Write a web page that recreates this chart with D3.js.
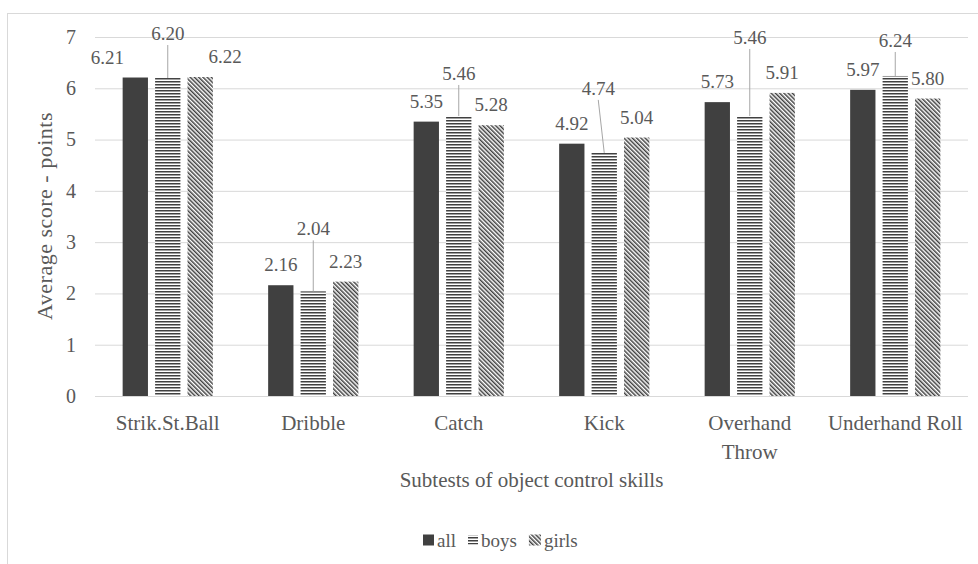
<!DOCTYPE html>
<html>
<head>
<meta charset="utf-8">
<script src="https://cdn.jsdelivr.net/npm/d3@7"></script>
<style>
  body { margin: 0; background: #fff; }
  svg { display: block; }
</style>
</head>
<body>
<svg id="chart" width="978" height="564"></svg>
<script>
// ---- data ----
const categories = ["Strik.St.Ball", "Dribble", "Catch", "Kick", "Overhand Throw", "Underhand Roll"];
const seriesNames = ["all", "boys", "girls"];
const allScores   = [6.21, 2.16, 5.35, 4.92, 5.73, 5.97];
const boysScores  = [6.20, 2.04, 5.46, 4.74, 5.46, 6.24];
const girlsScores = [6.22, 2.23, 5.28, 5.04, 5.91, 5.80];
const yTicks = [0, 1, 2, 3, 4, 5, 6, 7];
const yTitle = "Average score - points";
const xTitle = "Subtests of object control skills";

// hand-placed data label nudges, in pixels
const labelDx = {
  all:   [-28, 0, 0, 0, 0, 0],
  boys:  [0, 0, 0, -6, 0, 0],
  girls: [25, 0, 0, 0, 0, 0]
};
const boysLabelLift = [45, 63, 43, 65, 79, 36];

const seriesValues = { all: allScores, boys: boysScores, girls: girlsScores };

// ---- layout ----
const FONT = "Liberation Serif";
const svg = d3.select("#chart");
const plot = { left: 95, right: 968, top: 37, bottom: 396 };
const ink = "#404040";
const textGray = "#595959";
const gridGray = "#d9d9d9";

// chart frame
svg.append("rect")
  .attr("x", 7.5).attr("y", 13.5)
  .attr("width", 992).attr("height", 600)
  .attr("fill", "#fff").attr("stroke", gridGray).attr("stroke-width", 1);

// fill patterns
const defs = svg.append("defs");
const hp = defs.append("pattern").attr("id", "pat-boys")
  .attr("patternUnits", "userSpaceOnUse").attr("width", 6).attr("height", 3);
hp.append("rect").attr("width", 6).attr("height", 3).attr("fill", "#fff");
hp.append("rect").attr("width", 6).attr("height", 1.5).attr("fill", ink);

const dp = defs.append("pattern").attr("id", "pat-girls")
  .attr("patternUnits", "userSpaceOnUse").attr("width", 3).attr("height", 3)
  .attr("patternTransform", "rotate(-45)");
dp.append("rect").attr("width", 3).attr("height", 3).attr("fill", "#fff");
dp.append("rect").attr("width", 1.5).attr("height", 3).attr("fill", ink);

const fills = { all: ink, boys: "url(#pat-boys)", girls: "url(#pat-girls)" };

// scales
const x0 = d3.scaleBand().domain(categories).range([plot.left, plot.right]).padding(0);
const bw = x0.bandwidth();
const x1 = d3.scaleBand().domain(seriesNames).range([bw * 0.19, bw * 0.81]).paddingInner(0.22);
const y = d3.scaleLinear().domain([0, 7]).range([plot.bottom, plot.top]);

// gridlines + tick labels
const yAxis = svg.append("g")
  .attr("transform", `translate(${plot.left},0)`)
  .call(d3.axisLeft(y).tickValues(yTicks).tickFormat(d3.format("d"))
    .tickSizeInner(-(plot.right - plot.left)).tickSizeOuter(0).tickPadding(19));
yAxis.attr("font-size", 20);
yAxis.select(".domain").remove();
yAxis.selectAll(".tick line").attr("stroke", gridGray).attr("stroke-width", 1);
yAxis.selectAll(".tick text").attr("fill", textGray);

// bars
const rows = categories.map((c, i) => ({
  cat: c, i,
  vals: seriesNames.map(s => ({ series: s, value: seriesValues[s][i] }))
}));

const groups = svg.append("g").selectAll("g")
  .data(rows).join("g")
  .attr("transform", d => `translate(${x0(d.cat)},0)`);

groups.selectAll("rect")
  .data(d => d.vals)
  .join("rect")
  .attr("x", d => x1(d.series))
  .attr("width", x1.bandwidth())
  .attr("y", d => y(d.value))
  .attr("height", d => y(0) - y(d.value))
  .attr("fill", d => fills[d.series]);

// data labels
const fmt = d3.format(".2f");
const labels = svg.append("g").attr("font-size", 19).attr("fill", textGray);
rows.forEach(r => {
  r.vals.forEach(v => {
    const cx = x0(r.cat) + x1(v.series) + x1.bandwidth() / 2;
    const top = y(v.value);
    const lx = cx + labelDx[v.series][r.i];
    let ly;
    if (v.series === "boys") {
      ly = top - boysLabelLift[r.i];
      labels.append("line")
        .attr("x1", lx).attr("y1", ly + 12)
        .attr("x2", cx).attr("y2", top)
        .attr("stroke", "#a6a6a6").attr("stroke-width", 1);
    } else {
      ly = top - 20.5;
    }
    labels.append("text")
      .attr("x", lx).attr("y", ly).attr("dy", "0.35em")
      .attr("text-anchor", "middle")
      .text(fmt(v.value));
  });
});

// category labels (wrapped to the band width)
const catG = svg.append("g").attr("font-size", 21).attr("fill", textGray);
categories.forEach(c => {
  const cx = x0(c) + bw / 2;
  const t = catG.append("text").attr("font-family", FONT).attr("text-anchor", "middle");
  const words = c.split(" ");
  const lines = [];
  let line = [];
  const probe = t.append("tspan");
  words.forEach(w => {
    probe.text(line.concat([w]).join(" "));
    if (probe.node().getComputedTextLength() > bw - 6 && line.length) {
      lines.push(line.join(" "));
      line = [w];
    } else {
      line.push(w);
    }
  });
  lines.push(line.join(" "));
  probe.remove();
  lines.forEach((ln, k) => {
    t.append("tspan").attr("x", cx).attr("y", 423 + k * 29).attr("dy", "0.35em").text(ln);
  });
});

// axis titles
svg.append("text")
  .attr("x", (plot.left + plot.right) / 2).attr("y", 480).attr("dy", "0.35em")
  .attr("text-anchor", "middle").attr("font-size", 21).attr("fill", textGray)
  .text(xTitle);

svg.append("text")
  .attr("transform", "translate(44,216) rotate(-90)")
  .attr("dy", "0.35em").attr("text-anchor", "middle")
  .attr("font-size", 22).attr("letter-spacing", 0.5).attr("fill", textGray)
  .text(yTitle);

// legend
const legend = svg.append("g").attr("font-size", 19).attr("fill", textGray);
let legX = 423;
const swatch = { all: [11, 11], boys: [10, 9], girls: [12, 11] };
seriesNames.forEach(s => {
  const [sw, sh] = swatch[s];
  legend.append("rect")
    .attr("x", legX).attr("y", 540 - sh / 2)
    .attr("width", sw).attr("height", sh)
    .attr("fill", fills[s]);
  const t = legend.append("text")
    .attr("font-family", FONT)
    .attr("x", legX + sw + 3).attr("y", 540).attr("dy", "0.35em")
    .text(s);
  legX += sw + 3 + t.node().getComputedTextLength() + 12;
});

// every text element uses the serif face
svg.selectAll("text").attr("font-family", FONT);
</script>
</body>
</html>
